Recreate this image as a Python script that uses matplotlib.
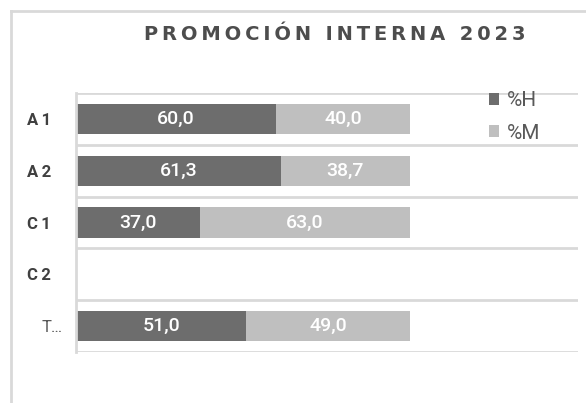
import numpy as np
import matplotlib.pyplot as plt
from matplotlib.lines import Line2D
from matplotlib.transforms import ScaledTranslation

# Data
categories = ["A1", "A2", "C1", "C2", "T…"]
pct_h = [60.0, 61.3, 37.0, np.nan, 51.0]
pct_m = [40.0, 38.7, 63.0, np.nan, 49.0]
series_names = ["%H", "%M"]
title = "PROMOCIÓN INTERNA 2023"

dark = "#6d6d6d"
light = "#bfbfbf"
grid_col = "#d9d9d9"
text_col = "#595959"

plt.rcParams['font.family'] = ['Roboto', 'DejaVu Sans']

W, H = 586, 403
fig = plt.figure(figsize=(W / 100, H / 100), dpi=100)
ax = fig.add_axes([76 / W, 1 - 352 / H, (578 - 76) / W, (352 - 93) / H])

y = np.arange(len(categories))
h = np.array(pct_h)
m = np.array(pct_m)
bars_h = ax.barh(y, h, height=0.58, color=dark, label=series_names[0])
bars_m = ax.barh(y, m, left=h, height=0.58, color=light, label=series_names[1])

def fmt(vals):
    return ["" if np.isnan(v) else f"{v:.1f}".replace(".", ",") for v in vals]

ax.bar_label(bars_h, labels=fmt(h), label_type="center", color="white", fontsize=14, fontweight="medium")
ax.bar_label(bars_m, labels=fmt(m), label_type="center", color="white", fontsize=14, fontweight="medium")

ax.set_xlim(0, 100 * (578 - 76) / (410 - 76))
ax.set_ylim(len(categories) - 0.5, -0.5)
ax.set_xticks([])
ax.set_yticks(y)
ax.set_yticklabels(["A\u20091", "A\u20092", "C\u20091", "C\u20092", "T…"])
ax.set_yticks(np.arange(-0.5, len(categories), 1), minor=True)
ax.tick_params(axis="y", which="both", length=0, pad=18, labelsize=12, labelcolor="#404040")
ax.grid(axis="y", which="minor", color=grid_col, linewidth=2)
for lab in ax.get_yticklabels():
    if lab.get_text().startswith("T"):
        lab.set_fontweight("normal")
        lab.set_color(text_col)
        lab.set_transform(lab.get_transform() + ScaledTranslation(12 / 100, 0, fig.dpi_scale_trans))
    else:
        lab.set_fontweight("bold")

for side in ["top", "right", "bottom"]:
    ax.spines[side].set_visible(False)
ax.spines["left"].set_color(grid_col)
ax.spines["left"].set_linewidth(2)

ax.legend(loc="upper left", bbox_to_anchor=(489 / W, 1 - 91 / H), bbox_transform=fig.transFigure,
          frameon=False, fontsize=15, handlelength=0.5, handleheight=0.5, handletextpad=0.35,
          labelspacing=0.65, borderpad=0, borderaxespad=0, labelcolor=text_col)

fig.text(335 / W, 1 - 35 / H, "\u2009".join(title), ha="center", va="center",
         fontsize=14, fontweight="bold", color="#4d4d4d", family="DejaVu Sans")

# outer chart border (left and top visible)
fig.add_artist(Line2D([11 / W, 1], [1 - 11 / H, 1 - 11 / H], color=grid_col, linewidth=2, transform=fig.transFigure))
fig.add_artist(Line2D([11 / W, 11 / W], [0, 1 - 11 / H], color=grid_col, linewidth=2, transform=fig.transFigure))

fig.savefig("out.png", dpi=100)
